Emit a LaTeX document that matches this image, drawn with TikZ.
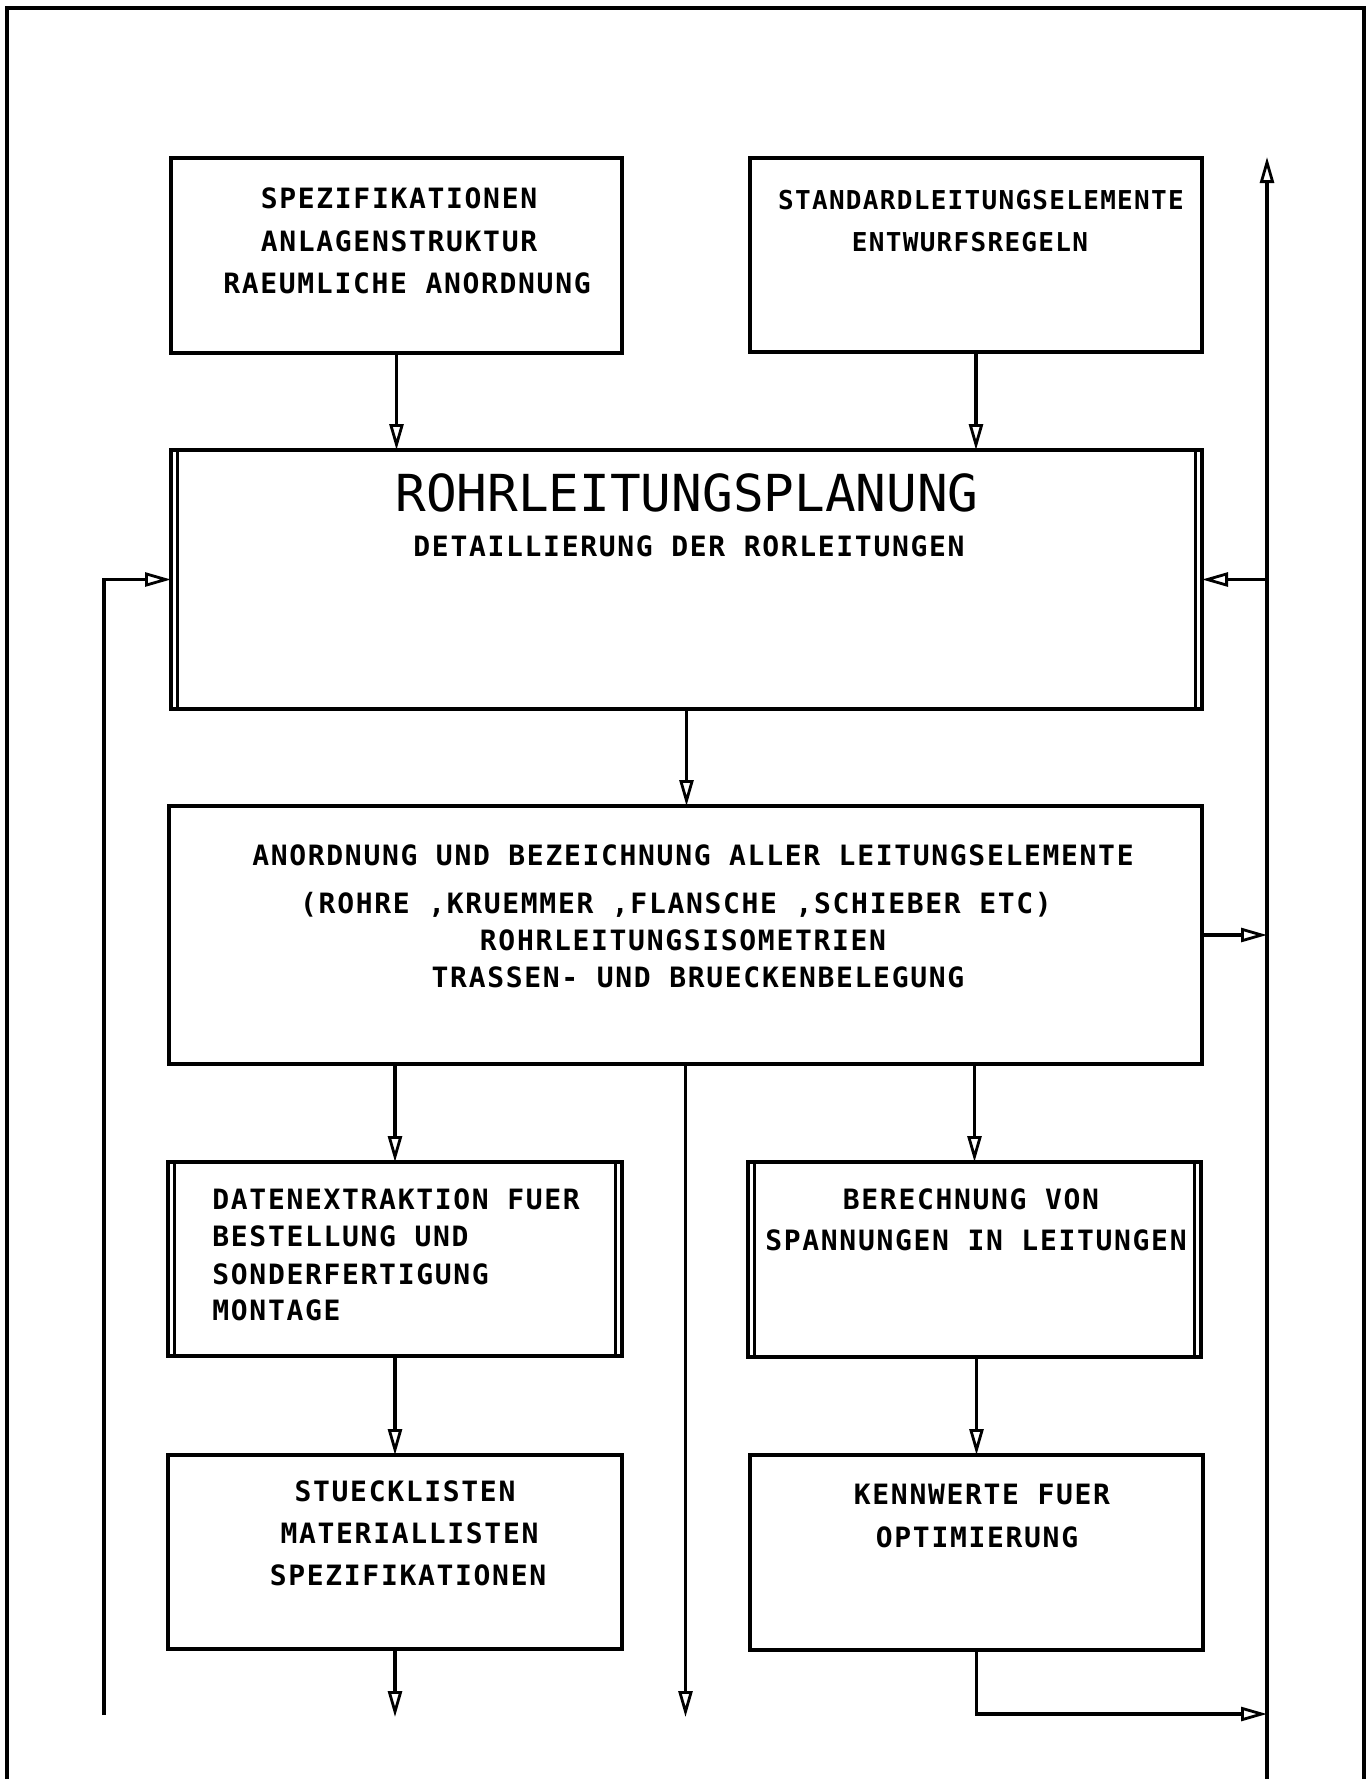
\documentclass[tikz,border=0pt]{standalone}
\usepackage{fontspec}
\usetikzlibrary{arrows.meta}
% plotter-style lettering
\newfontfamily\plotfont[LetterSpace=6]{DejaVu Sans Mono}
\newfontfamily\plotfontn[LetterSpace=5]{DejaVu Sans Mono}
\newfontfamily\titlefont{DejaVu Sans Mono}
\begin{document}
\begin{tikzpicture}[x=0.5pt,y=-0.5pt,
  frame/.style={line width=2pt},
  box/.style={draw, line width=1.6pt, inner sep=0pt, outer sep=0pt},
  inner/.style={line width=1.3pt},
  conn/.style={line width=1.6pt, -{Triangle[open, length=13pt, width=7pt, line width=1.4pt]}},
  txt/.style={inner sep=0pt, anchor=base, font=\plotfont\bfseries\fontsize{14}{16}\selectfont},
  txts/.style={txt, font=\plotfontn\bfseries\fontsize{13}{15}\selectfont},
  txtl/.style={txt, anchor=base west},
  ttl/.style={inner sep=0pt, anchor=base, font=\titlefont\fontsize{25.5}{28}\selectfont}]

\useasboundingbox (0,0) rectangle (1370,1779);

% sheet frame, open at the bottom
\draw[frame] (7,1779) -- (7,8) -- (1364,8) -- (1364,1779);

% boxes
\node[box, minimum width=225.5pt, minimum height=97.5pt] (b1) at (396.5,255.5) {};
\node[box, minimum width=226pt,   minimum height=97pt]   (b2) at (976,255) {};
\node[box, minimum width=515.5pt, minimum height=129.5pt] (b3) at (686.5,579.5) {};
\node[box, minimum width=516.5pt, minimum height=129pt]  (b4) at (685.5,935) {};
\node[box, minimum width=227pt,   minimum height=97pt]   (b5) at (395,1259) {};
\node[box, minimum width=226.5pt, minimum height=97.5pt] (b6) at (974.5,1259.5) {};
\node[box, minimum width=227pt,   minimum height=97pt]   (b7) at (395,1552) {};
\node[box, minimum width=226.5pt, minimum height=97.5pt] (b8) at (976.5,1552.5) {};

% doubled side lines of the processing boxes
\foreach \b in {b3,b5,b6}{
  \draw[inner] ([xshift=3.25pt]\b.north west) -- ([xshift=3.25pt]\b.south west);
  \draw[inner] ([xshift=-3.25pt]\b.north east) -- ([xshift=-3.25pt]\b.south east);
}

% box texts
\node[txt] (t1a) at (399,208) {SPEZIFIKATIONEN};
\node[txt] (t1b) at (399,251) {ANLAGENSTRUKTUR};
\node[txt] (t1c) at (407,293) {RAEUMLICHE ANORDNUNG};

\node[txts] (t2a) at (981,209.5) {STANDARDLEITUNGSELEMENTE};
\node[txts] (t2b) at (970,251.5) {ENTWURFSREGELN};

\node[ttl] (t3a) at (687,511.5) {ROHRLEITUNGSPLANUNG};
\node[txt] (t3b) at (689,556) {DETAILLIERUNG DER RORLEITUNGEN};

\node[txt] (t4a) at (693,865.5) {ANORDNUNG UND BEZEICHNUNG ALLER LEITUNGSELEMENTE};
\node[txt] (t4b) at (676,913.5) {(ROHRE ,KRUEMMER ,FLANSCHE ,SCHIEBER ETC)};
\node[txt] (t4c) at (683,950.5) {ROHRLEITUNGSISOMETRIEN};
\node[txt] (t4d) at (698,987) {TRASSEN- UND BRUECKENBELEGUNG};

\node[txtl] (t5a) at (212,1209.5) {DATENEXTRAKTION FUER};
\node[txtl] (t5b) at (212,1246.5) {BESTELLUNG UND};
\node[txtl] (t5c) at (212,1284) {SONDERFERTIGUNG};
\node[txtl] (t5d) at (212,1320.5) {MONTAGE};

\node[txt] (t6a) at (971,1209.5) {BERECHNUNG VON};
\node[txt] (t6b) at (976,1250) {SPANNUNGEN IN LEITUNGEN};

\node[txt] (t7a) at (405,1501.5) {STUECKLISTEN};
\node[txt] (t7b) at (409.5,1543.5) {MATERIALLISTEN};
\node[txt] (t7c) at (408,1585.5) {SPEZIFIKATIONEN};

\node[txt] (t8a) at (982,1504) {KENNWERTE FUER};
\node[txt] (t8b) at (977,1547) {OPTIMIERUNG};

% free ends of connectors
\coordinate (outA) at (685.5,1717);
\coordinate (outB) at (395,1717);
\coordinate (fbL)  at (104,1715);
\coordinate (railB) at (1267,1779);
\coordinate (railT) at (1267,157);
\coordinate (railJ) at (1267,1714);

% main flow
\draw[conn] (b1.south) -- (b1.south |- b3.north);
\draw[conn] (b2.south) -- (b2.south |- b3.north);
\draw[conn] (b3.south) -- (b3.south |- b4.north);
\draw[conn] (b5.north |- b4.south) -- (b5.north);
\draw[conn] (b6.north |- b4.south) -- (b6.north);
\draw[conn] (b4.south) -- (outA);
\draw[conn] (b5.south) -- (b7.north);
\draw[conn] (b8.north |- b6.south) -- (b8.north);
\draw[conn] (b7.south) -- (outB);

% feedback on the left
\draw[conn] (fbL) |- (b3.west);

% return rail on the right
\draw[conn] (railB) -- (railT);
\draw[conn] (railT |- b3.east) -- (b3.east);
\draw[conn] (b4.east) -- (b4.east -| railT);
\draw[conn] (b8.south) |- (railJ);
\end{tikzpicture}
\end{document}
